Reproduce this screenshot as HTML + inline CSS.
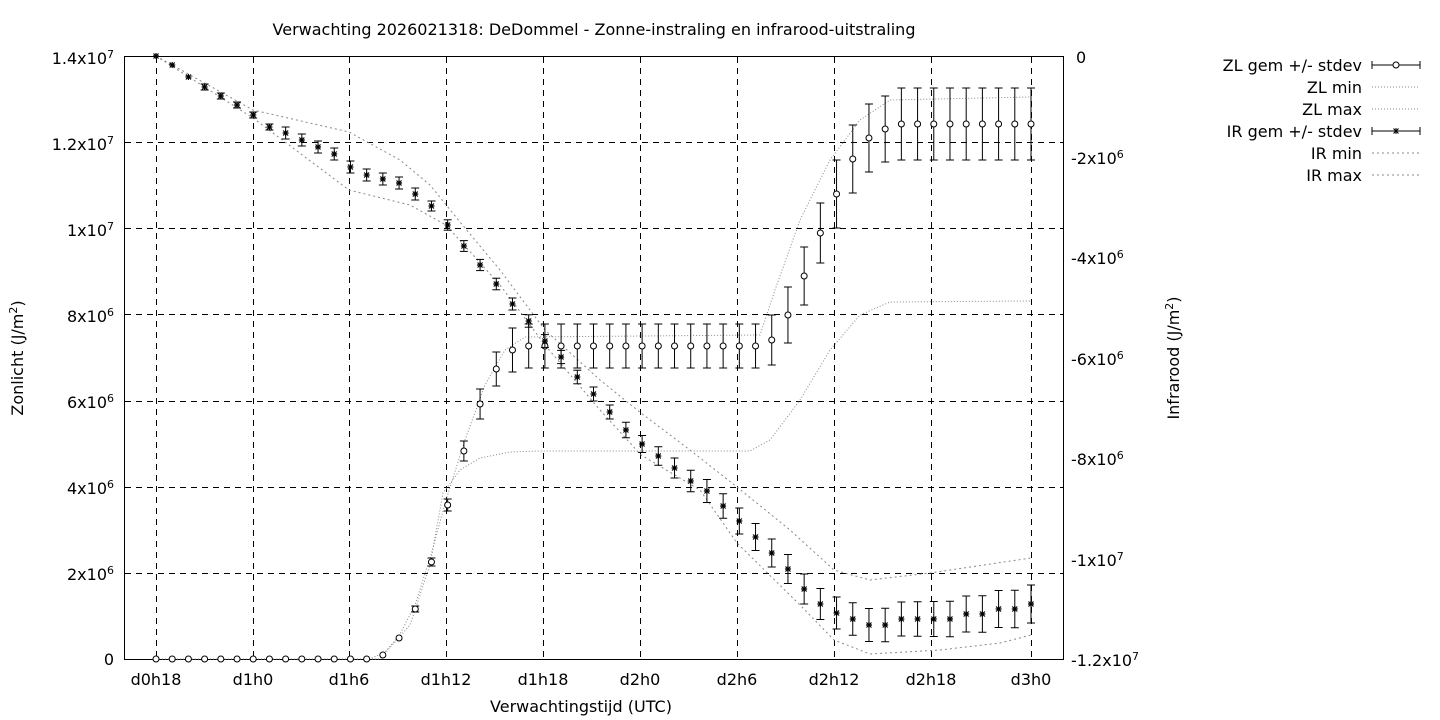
<!DOCTYPE html>
<html><head><meta charset="utf-8"><style>
html,body{margin:0;padding:0;background:#fff;}
svg{display:block;font-family:"DejaVu Sans","Liberation Sans",sans-serif;}
</style></head><body>
<svg id="s" width="1440" height="720" xmlns="http://www.w3.org/2000/svg">
<rect width="1440" height="720" fill="#fff"/>
<text x="594" y="35" font-size="16" text-anchor="middle">Verwachting 2026021318: DeDommel - Zonne-instraling en infrarood-uitstraling</text>
<g id="grid" stroke="#000" stroke-width="1" stroke-dasharray="6,5"></g>
<rect x="124.5" y="56.5" width="939" height="603" fill="none" stroke="#000"/>
<g font-size="16" text-anchor="end">
<text x="114" y="64">1.4x10<tspan font-size="11" dy="-6">7</tspan></text>
<text x="114" y="150">1.2x10<tspan font-size="11" dy="-6">7</tspan></text>
<text x="114" y="236">1x10<tspan font-size="11" dy="-6">7</tspan></text>
<text x="114" y="322">8x10<tspan font-size="11" dy="-6">6</tspan></text>
<text x="114" y="408">6x10<tspan font-size="11" dy="-6">6</tspan></text>
<text x="114" y="494">4x10<tspan font-size="11" dy="-6">6</tspan></text>
<text x="114" y="580">2x10<tspan font-size="11" dy="-6">6</tspan></text>
<text x="114" y="665">0</text>
</g>
<g font-size="16" text-anchor="start">
<text x="1076" y="63">0</text>
<text x="1071" y="164">-2x10<tspan font-size="11" dy="-6">6</tspan></text>
<text x="1071" y="264">-4x10<tspan font-size="11" dy="-6">6</tspan></text>
<text x="1071" y="365">-6x10<tspan font-size="11" dy="-6">6</tspan></text>
<text x="1071" y="465">-8x10<tspan font-size="11" dy="-6">6</tspan></text>
<text x="1071" y="566">-1x10<tspan font-size="11" dy="-6">7</tspan></text>
<text x="1071" y="666">-1.2x10<tspan font-size="11" dy="-6">7</tspan></text>
</g>
<g font-size="16" text-anchor="middle">
<text x="156" y="685">d0h18</text><text x="253" y="685">d1h0</text><text x="349" y="685">d1h6</text>
<text x="446" y="685">d1h12</text><text x="543" y="685">d1h18</text><text x="640" y="685">d2h0</text>
<text x="737" y="685">d2h6</text><text x="834" y="685">d2h12</text><text x="931" y="685">d2h18</text>
<text x="1031" y="685">d3h0</text>
<text x="581" y="712">Verwachtingstijd (UTC)</text>
</g>
<text font-size="16" text-anchor="middle" transform="translate(23,358) rotate(-90)">Zonlicht (J/m<tspan font-size="11" dy="-6">2</tspan><tspan dy="6">)</tspan></text>
<text font-size="16" text-anchor="middle" transform="translate(1179,358) rotate(-90)">Infrarood (J/m<tspan font-size="11" dy="-6">2</tspan><tspan dy="6">)</tspan></text>
<g font-size="16" text-anchor="end">
<text x="1362" y="71">ZL gem +/- stdev</text>
<text x="1362" y="93">ZL min</text>
<text x="1362" y="115">ZL max</text>
<text x="1362" y="137">IR gem +/- stdev</text>
<text x="1362" y="159">IR min</text>
<text x="1362" y="181">IR max</text>
</g>
<g id="plot"></g>
</svg>
<script>
var NS="http://www.w3.org/2000/svg",P=document.getElementById('plot'),G=document.getElementById('grid');
function el(t,a,p){var e=document.createElementNS(NS,t);for(var k in a)e.setAttribute(k,a[k]);(p||P).appendChild(e);return e;}
var xs=[156,253,349,446,543,640,737,834,931,1031];
xs.forEach(function(x){el('line',{x1:x+.5,y1:57,x2:x+.5,y2:659},G);});
for(var i=1;i<7;i++){var y=Math.round(659-i*86.14)+.5;el('line',{x1:125,y1:y,x2:1063,y2:y},G);}
function X(i){return 156+i*(875/54);}
var zl=[659,659,659,659,659,659,659,659,659,659,659,659,659,659,655,638,609,562,505,451,404,369,350,346,346,346,346,346,346,346,346,346,346,346,346,346,346,346,340,315,276,233,194,159,138,129,124,124,124,124,124,124,124,124,124];
var ze=[0,0,0,0,0,0,0,0,0,0,0,0,0,0,0,0,3,4,6,10,15,17,22,22,22,22,22,22,22,22,22,22,22,22,22,22,22,22,25,28,29,30,34,34,34,33,36,36,36,36,36,36,36,36,36];
var ir=[56,65,77,87,96,105,115,127,133,140,147,154,167,175,179,183,194,206,225,246,265,284,304,321,341,357,377,394,412,430,444,456,468,481,491,506,521,537,553,569,589,604,613,619,625,625,619,619,619,619,614,614,609,609,604];
function ie(i){if(i<3)return 0;if(i<8)return 3;if(i<17)return 6;if(i<28)return 5+(i-17)*0.2;if(i<36)return 7+(i-28)*0.75;if(i<42)return 13+(i-36)*0.5;return Math.min(19,16+(i-42)*0.25);}
function line(pts){return pts.map(function(p){return p[0]+','+p[1]}).join(' ');}
var dot={fill:'none',stroke:'#888','stroke-width':1,'stroke-dasharray':'1,2'};
function dl(pts,d){var a=Object.assign({},dot,{points:line(pts)});if(d)a['stroke-dasharray']=d;el('polyline',a);}
dl([[156,659],[380,659],[410,625],[430,565],[443,493],[460,470],[480,458],[510,452],[540,451],[750,451],[770,440],[800,400],[830,350],[860,315],[890,302],[1031,301]]);
dl([[156,659],[370,659],[385,652],[399,636],[415,605],[431,555],[446,500],[465,440],[485,385],[505,350],[525,337],[760,335],[775,290],[800,220],[830,160],[860,120],[890,100],[1031,97]]);
dl([[156,56],[253,110],[349,132],[400,160],[430,185],[460,222],[500,270],[545,330],[600,380],[641,413],[690,450],[737,487],[790,530],[834,570],[870,580],[930,573],[1031,558]],'2,3');
dl([[156,56],[253,118],[349,190],[410,205],[446,225],[500,285],[545,345],[600,410],[641,455],[700,490],[737,543],[800,605],[834,640],[870,654],[940,650],[1000,643],[1031,635]],'2,3');
for(var i=0;i<55;i++){var x=X(i);
 if(ze[i]>0){el('line',{x1:x,y1:zl[i]-ze[i],x2:x,y2:zl[i]+ze[i],stroke:'#000'});el('line',{x1:x-4,y1:zl[i]-ze[i],x2:x+4,y2:zl[i]-ze[i],stroke:'#000'});el('line',{x1:x-4,y1:zl[i]+ze[i],x2:x+4,y2:zl[i]+ze[i],stroke:'#000'});}
 el('circle',{cx:x,cy:zl[i],r:3,fill:'#fff',stroke:'#000'});
 var e=ie(i);
 if(e>0){el('line',{x1:x,y1:ir[i]-e,x2:x,y2:ir[i]+e,stroke:'#000'});el('line',{x1:x-4,y1:ir[i]-e,x2:x+4,y2:ir[i]-e,stroke:'#000'});el('line',{x1:x-4,y1:ir[i]+e,x2:x+4,y2:ir[i]+e,stroke:'#000'});}
 var y=ir[i];el('path',{d:'M'+(x-3)+','+y+'h6M'+x+','+(y-3)+'v6M'+(x-2.5)+','+(y-2.5)+'l5,5M'+(x-2.5)+','+(y+2.5)+'l5,-5',stroke:'#000','stroke-width':1.2});
}
function leg(y,t){el('line',{x1:1372,y1:y,x2:1420,y2:y,stroke:'#000'});el('line',{x1:1372,y1:y-4,x2:1372,y2:y+4,stroke:'#000'});el('line',{x1:1420,y1:y-4,x2:1420,y2:y+4,stroke:'#000'});
 if(t)el('circle',{cx:1396,cy:y,r:3,fill:'#fff',stroke:'#000'});else el('path',{d:'M1393,'+y+'h6M1396,'+(y-3)+'v6M1393.5,'+(y-2.5)+'l5,5M1393.5,'+(y+2.5)+'l5,-5',stroke:'#000'});}
leg(65,1);leg(131,0);
dl([[1372,87],[1420,87]]);dl([[1372,109],[1420,109]]);dl([[1372,153],[1420,153]],'2,3');dl([[1372,175],[1420,175]],'2,3');
</script>
</body></html>
